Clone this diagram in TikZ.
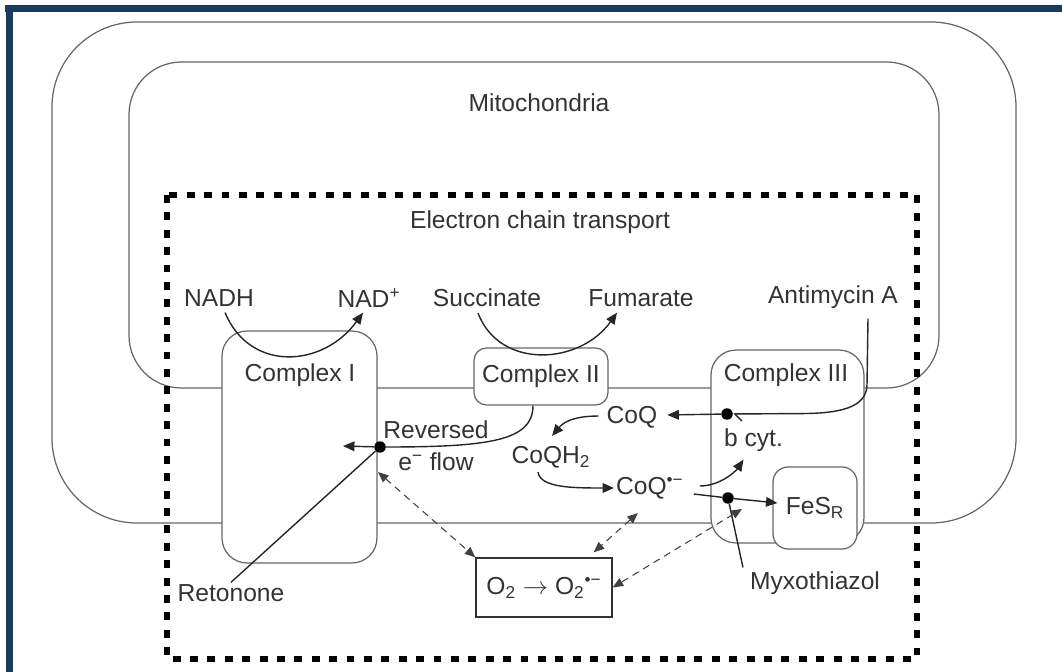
\documentclass[tikz,border=0pt]{standalone}
\usepackage{fontspec}
\setsansfont{Liberation Sans}
\usetikzlibrary{arrows.meta, positioning, calc}
\definecolor{navy}{HTML}{1C3A5F}

\begin{document}
\begin{tikzpicture}[
    x=0.02cm, y=-0.02cm,
    font=\sffamily\fontsize{14}{18}\selectfont,
    % Styles
    membrane/.style={draw=black!60, line width=0.7pt},
    cplx/.style={rectangle, rounded corners=0.5cm, draw=black!60, fill=white, line width=0.7pt, inner sep=0pt, text=black!80},
    txt/.style={text=black!80, inner sep=1pt},
    dotnode/.style={circle, fill=black, inner sep=0pt, minimum size=0.23cm},
    arrow/.style={-{Triangle[length=6.5pt, width=5.5pt]}, line width=0.8pt, draw=black!85},
    plain/.style={line width=0.8pt, draw=black!85},
    dasharrow/.style={{Triangle[length=6pt, width=5pt]}-{Triangle[length=6pt, width=5pt]}, line width=0.6pt, draw=black!75, dash pattern=on 4pt off 3pt},
    chainbox/.style={draw=black, line width=3.4pt, dash pattern=on 4.5pt off 5.4pt}
]
\useasboundingbox (0,0) rectangle (1062,672);

% ------------------- FRAME -------------------
\fill[navy] (5,5) rectangle (1062,12);
\fill[navy] (6,5) rectangle (13,672);

% ------------------- MEMBRANES -------------------
\draw[membrane, rounded corners=1.7cm] (52,22) rectangle (1016,523);
\draw[membrane, rounded corners=1.05cm] (129,62) rectangle (939,388);

\node[txt] (mito) at (539,103) {Mitochondria};

% ------------------- COMPLEXES -------------------
\node[cplx, minimum width=3.1cm, minimum height=4.64cm] (c1) at (299.5,447) {};
\node[cplx, rounded corners=0.25cm, minimum width=2.68cm, minimum height=1.14cm] (c2) at (541,376.5) {Complex II};
\node[cplx, minimum width=3.06cm, minimum height=3.86cm] (c3) at (787.5,446.5) {};
\node[cplx, rounded corners=0.3cm, minimum width=1.68cm, minimum height=1.64cm] (fes) at (815,508) {FeS\textsubscript{R}};
\node[draw=black!80, line width=0.8pt, fill=white, text=black!80, inner sep=0pt, minimum width=2.72cm, minimum height=1.18cm] (o2) at (544,587.5) {O\textsubscript{2} $\rightarrow$ O\textsubscript{2}\textsuperscript{•−}};

\node[txt] (c1lab) at (300,375) {Complex I};
\node[txt] (c3lab) at (786,375) {Complex III};

% ------------------- ELECTRON CHAIN BOX -------------------
\draw[chainbox] (167,195) rectangle (917,659);
\node[txt] (etc) at (540,222) {Electron chain transport};

% ------------------- LABELS -------------------
\node[txt] (nadh) at (219,298) {NADH};
\node[txt] (nadp) at (369,298) {NAD\textsuperscript{+}};
\node[txt] (succ) at (487,298) {Succinate};
\node[txt] (fuma) at (641,298) {Fumarate};
\node[txt] (anti) at (833,297) {Antimycin A};
\node[txt, align=center] (revtxt) at (436,446) {Reversed\\e\textsuperscript{−} flow};
\node[txt] (coq) at (632,417) {CoQ};
\node[txt] (coqh) at (551,457) {CoQH\textsubscript{2}};
\node[txt, anchor=west] (coqr) at (614,488) {CoQ\textsuperscript{•−}};
\node[txt, anchor=west] (bcyt) at (722,440) {b cyt.};
\node[txt] (myxo) at (815,583) {Myxothiazol};
\node[txt] (reto) at (231,593) {Retonone};

\node[dotnode] (revdot) at (380,447) {};
\node[dotnode] (bdot) at (727,414) {};
\node[dotnode] (fesdot) at (728,498) {};

\coordinate (revend) at (343,446);
\coordinate (revlow) at (378,472);
\coordinate (fesup) at (742,509);

% ------------------- SUBSTRATE ARROWS -------------------
\draw[arrow] ($(nadh.south)+(6,4)$) .. controls +(25,60) and +(-40,55) .. ($(nadp.south)+(-6,3)$);
\draw[arrow] ($(succ.south)+(-9,4)$) .. controls +(22,57) and +(-37,52) .. ($(fuma.south)+(-24,4)$);

% ------------------- REVERSED FLOW -------------------
\draw[plain] ($(c2.south)+(-8,0)$) .. controls +(0,35) and +(110,0) .. (revdot);
\draw[arrow] (revdot) -- (revend);
\draw[plain] (reto.north) -- (revdot);

% ------------------- Q CYCLE -------------------
\draw[arrow] (bdot) -- ($(coq.east)+(8,-2)$);
\draw[arrow] ($(coq.west)+(-6,-1)$) .. controls +(-28,0) and +(10,-12) .. ($(coqh.north)+(1,-8)$);
\draw[arrow] ($(coqh.south)+(-13,2)$) .. controls +(2,16) and +(-40,0) .. (coqr.west);
\draw[arrow] ($(coqr.east)+(14,-2)$) .. controls +(20,0) and +(-8,12) .. ($(bcyt.south)+(-10,6)$);
\draw[plain] ($(coqr.east)+(8,6)$) -- (fesdot);
\draw[arrow] (fesdot) -- ($(fes.west)+(5,-5)$);
\draw[plain, -{Straight Barb[left, length=4pt]}] ($(anti.south)+(35,8)$) -- ++(-1,67) .. controls +(-1,22) and +(40,0) .. ++(-67,28) -- (bdot);
\draw[plain] ($(myxo.north west)+(-5,-2)$) -- (fesdot);

% ------------------- SUPEROXIDE -------------------
\draw[dasharrow] (revlow) -- (o2.north west);
\draw[dasharrow] ($(coqr.south)+(-12,12)$) -- ($(o2.north east)+(-19,-5)$);
\draw[dasharrow] (fesup) -- (o2.east);

\end{tikzpicture}
\end{document}
